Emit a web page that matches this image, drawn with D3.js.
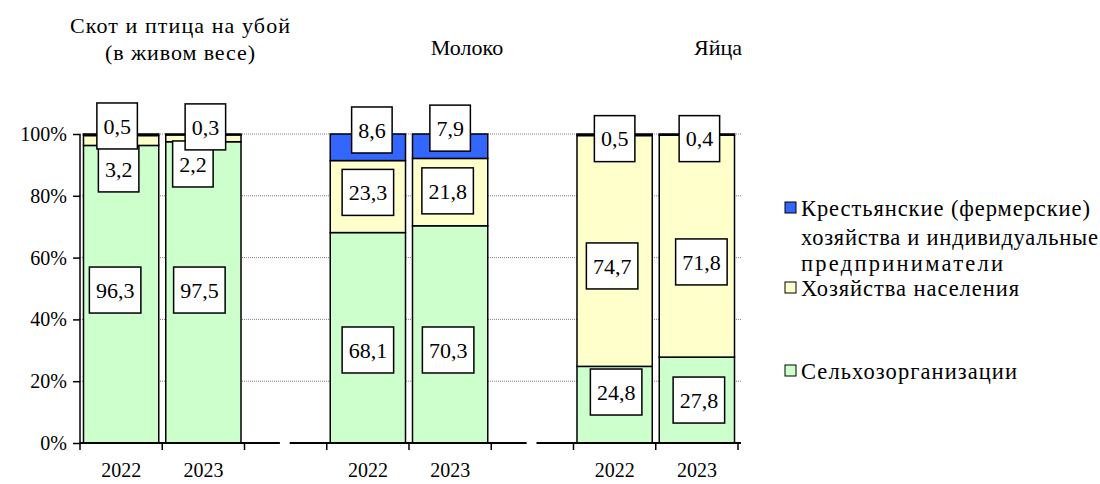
<!DOCTYPE html>
<html><head><meta charset="utf-8">
<script src="https://cdn.jsdelivr.net/npm/d3@7"></script>
<style>body{margin:0;background:#fff;}</style>
</head>
<body><svg id="c" width="1100" height="484"></svg>
<script>
// ---- data ----
const groups = ["Скот и птица на убой|(в живом весе)", "Молоко", "Яйца"];
const years = ["2022", "2023"];
const selhoz    = [96.3, 97.5, 68.1, 70.3, 24.8, 27.8];
const naselenie = [3.2, 2.2, 23.3, 21.8, 74.7, 71.8];
const fermer    = [0.5, 0.3, 8.6, 7.9, 0.5, 0.4];
const seriesNames = ["Сельхозорганизации", "Хозяйства населения", "Крестьянские (фермерские)|хозяйства и индивидуальные|предприниматели"];
const yTicks = [0, 20, 40, 60, 80, 100];

// ---- layout (label anchor positions in % units, x offsets px) ----
const labelY = [
  [49.5, 49.5, 30.1, 30.1, 16.5, 13.9],
  [88.7, 90.3, 81.1, 81.6, 57.3, 58.6],
  [102.6, 102.3, 101.3, 101.9, 98.5, 98.5]
];
const labelDx = [
  [-6, -4, 0, -2, 1.5, 2],
  [-2.5, -10.5, 0, -2.5, -2.5, 4.5],
  [-4, 2, 4, 0, 0, 2.5]
];
const colors = ["#CCFFCC", "#FFFFCC", "#3366FF"];
const FONT = "'Liberation Serif'";

const svg = d3.select("#c");
const txt = (sel, size) => sel.style("font-family", FONT).style("font-size", size + "px").style("fill", "#000");

const slots = [];
groups.forEach((g, gi) => { years.forEach(y => slots.push(gi + "-" + y)); if (gi < groups.length - 1) slots.push("gap" + gi); });
const x = d3.scaleBand().domain(slots).range([80, 738]).paddingInner(0.085).paddingOuter(0.0425);
const y = d3.scaleLinear().domain([0, 100]).range([443, 134]);
const step = x.step();
const x0 = 80;

const bars = [];
groups.forEach((g, gi) => years.forEach((yr, yi) => bars.push({key: gi + "-" + yr, i: gi * 2 + yi})));
const seriesVals = [selhoz, naselenie, fermer];
const stackData = bars.map(b => ({key: b.key, s0: selhoz[b.i], s1: naselenie[b.i], s2: fermer[b.i]}));
const stack = d3.stack().keys(["s0", "s1", "s2"])(stackData);

// gridlines
svg.append("g").selectAll("line").data(yTicks.filter(d => d > 0)).join("line")
  .attr("x1", x0).attr("x2", 741).attr("y1", d => y(d)).attr("y2", d => y(d))
  .attr("stroke", "#808080").attr("stroke-width", 1).attr("stroke-dasharray", "1,1");

// bars
stack.forEach((layer, li) => {
  svg.append("g").selectAll("rect").data(layer).join("rect")
    .attr("x", d => x(d.data.key)).attr("width", x.bandwidth())
    .attr("y", d => y(d[1])).attr("height", d => y(d[0]) - y(d[1]))
    .attr("fill", colors[li]).attr("stroke", "#000").attr("stroke-width", 1.5);
});

// y axis
const yAxis = d3.axisLeft(y).tickValues(yTicks).tickFormat(d => d + "%").tickSize(7).tickPadding(6);
const ga = svg.append("g").attr("transform", `translate(${x0},0)`).call(yAxis);
ga.select(".domain").attr("stroke", "#000").attr("stroke-width", 1.5).attr("d", `M0,${y(0)}V${y(100)}`);
ga.selectAll(".tick line").attr("stroke", "#000").attr("stroke-width", 1.5);
txt(ga.selectAll(".tick text"), 20);

// x axis segments with breaks
const bnd = k => x0 + k * step;
const segs = [[bnd(0), bnd(2) + step * 0.43], [bnd(2) + step * 0.55, bnd(5) + step * 0.43], [bnd(5) + step * 0.55, bnd(8) + 3]];
svg.append("g").selectAll("line").data(segs).join("line")
  .attr("x1", d => d[0]).attr("x2", d => d[1]).attr("y1", y(0)).attr("y2", y(0))
  .attr("stroke", "#000").attr("stroke-width", 2);
svg.append("g").selectAll("line").data(d3.range(9)).join("line")
  .attr("x1", d => bnd(d)).attr("x2", d => bnd(d)).attr("y1", y(0)).attr("y2", y(0) + 7)
  .attr("stroke", "#000").attr("stroke-width", 1.5);
txt(svg.append("g").selectAll("text").data(bars).join("text")
  .attr("x", d => x(d.key) + x.bandwidth() / 2).attr("y", 470).attr("dy", "0.35em")
  .attr("text-anchor", "middle"), 20)
  .text(d => d.key.split("-")[1]);

// data labels
stack.forEach((layer, li) => {
  const g = svg.append("g");
  layer.forEach((d, bi) => {
    const v = seriesVals[li][bi];
    const cx = x(d.data.key) + x.bandwidth() / 2 + labelDx[li][bi];
    const cy = y(labelY[li][bi]);
    const t = txt(g.append("text").attr("x", cx).attr("y", cy).attr("dy", "0.35em")
      .attr("text-anchor", "middle"), 22)
      .text(d3.format(".1f")(v).replace(".", ","));
    const w = t.node().getComputedTextLength() + 13;
    g.insert("rect", "text:last-child").attr("x", cx - w / 2).attr("y", cy - 23).attr("width", w).attr("height", 46)
      .attr("fill", "#fff").attr("stroke", "#000").attr("stroke-width", 1.5);
  });
});

// titles
const titlePos = [[180, 25], [467, 47], [718, 47]];
groups.forEach((g, gi) => {
  const lines = g.split("|");
  lines.forEach((ln, k) => {
    const t = txt(svg.append("text").attr("x", titlePos[gi][0]).attr("y", titlePos[gi][1] + k * 27)
      .attr("dy", "0.35em").attr("text-anchor", "middle"), 22).text(ln);
    if (gi === 0) t.attr("textLength", [220, 150][k]).attr("lengthAdjust", "spacing");
  });
});

// legend
const legendItems = [
  {c: colors[2], lines: seriesNames[2].split("|"), y: 208, w: [289, 297, 202]},
  {c: colors[1], lines: seriesNames[1].split("|"), y: 288, w: [218]},
  {c: colors[0], lines: seriesNames[0].split("|"), y: 371, w: [216]}
];
const lineOff = [0, 29, 55];
const lg = svg.append("g");
legendItems.forEach(it => {
  lg.append("rect").attr("x", 785).attr("y", it.y - 6).attr("width", 11).attr("height", 11)
    .attr("fill", it.c).attr("stroke", "#000").attr("stroke-width", 1);
  it.lines.forEach((ln, k) => {
    txt(lg.append("text").attr("x", 801).attr("y", it.y + lineOff[k]).attr("dy", "0.35em"), 22.5)
      .attr("textLength", it.w[k]).attr("lengthAdjust", "spacing").text(ln);
  });
});
</script></body></html>
